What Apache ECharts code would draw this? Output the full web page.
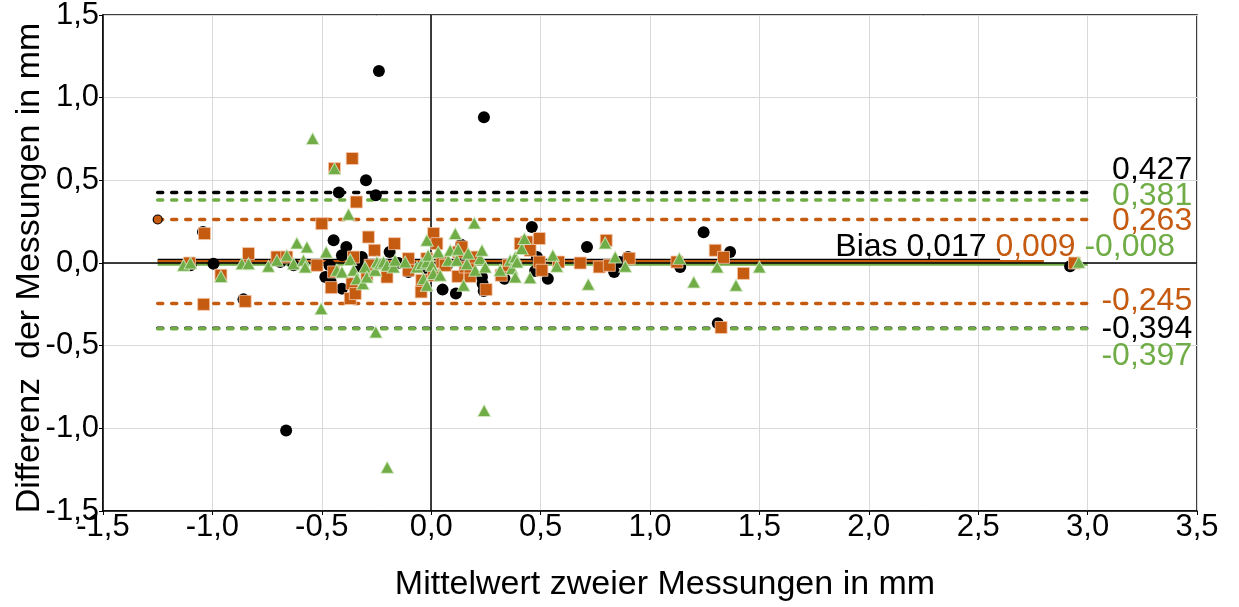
<!DOCTYPE html>
<html>
<head>
<meta charset="utf-8">
<script src="https://cdn.jsdelivr.net/npm/echarts@6/dist/echarts.min.js"></script>
<style>
  html, body { margin: 0; padding: 0; background: #fff; }
  #chart { width: 1239px; height: 607px; }
</style>
</head>
<body>
<div id="chart"></div>
<script>
// Bland-Altman data: [mean of two measurements, difference] in mm
const blackPts = [
  [-1.10, -0.014], [-1.043, 0.188], [-0.995, -0.004], [-0.858, -0.22], [-0.69, 0.006],
  [-0.663, -1.013], [-0.629, -0.014], [-0.484, -0.085], [-0.465, -0.014], [-0.461, -0.105],
  [-0.446, 0.137], [-0.422, 0.426], [-0.408, 0.047], [-0.408, -0.155], [-0.388, 0.097],
  [-0.317, 0.036], [-0.298, 0.50], [-0.253, 0.41], [-0.239, 1.162], [-0.19, 0.066],
  [-0.33, -0.02], [-0.15, 0.0], [-0.104, -0.054], [-0.096, -0.014], [-0.03, -0.03],
  [0.052, -0.161], [0.072, -0.014], [0.113, -0.185], [0.137, 0.111], [0.155, 0.028],
  [0.232, -0.085], [0.235, -0.125], [0.24, -0.169], [0.241, 0.881], [0.335, -0.095],
  [0.46, 0.218], [0.475, -0.048], [0.483, 0.036], [0.533, -0.095], [0.712, 0.097],
  [0.836, -0.054], [0.86, 0.006], [0.90, 0.036], [1.138, -0.024], [1.245, 0.186],
  [1.31, -0.365], [1.366, 0.066], [2.92, -0.02]
];

const orangePts = [
  [-1.105, 0.0], [-1.036, 0.178], [-1.04, -0.25], [-0.961, -0.074], [-0.85, -0.232],
  [-0.835, 0.057], [-0.705, 0.036], [-0.66, 0.036], [-0.522, -0.014], [-0.50, 0.238],
  [-0.457, -0.149], [-0.446, -0.054], [-0.442, 0.571], [-0.37, -0.215], [-0.362, -0.125],
  [-0.361, 0.632], [-0.355, 0.036], [-0.347, -0.185], [-0.342, 0.369], [-0.294, -0.074],
  [-0.287, 0.157], [-0.279, -0.014], [-0.259, 0.077], [-0.202, -0.085], [-0.168, 0.117],
  [-0.104, 0.026], [-0.104, -0.044], [-0.046, -0.175], [-0.043, -0.105], [-0.02, 0.026],
  [0.011, 0.178], [0.011, -0.074], [0.026, 0.117], [0.049, 0.006], [0.064, -0.014],
  [0.122, -0.081], [0.125, 0.066], [0.14, 0.097], [0.155, -0.024], [0.178, -0.081],
  [0.178, -0.024], [0.201, 0.036], [0.251, -0.161], [0.32, -0.074], [0.353, -0.014],
  [0.407, 0.117], [0.437, 0.127], [0.452, 0.077], [0.494, 0.148], [0.494, 0.006],
  [0.506, -0.044], [0.582, 0.006], [0.681, 0.0], [0.768, -0.024], [0.80, 0.137],
  [0.814, -0.014], [0.905, 0.028], [1.123, 0.006], [1.298, 0.077], [1.325, -0.39],
  [1.336, 0.034], [1.427, -0.063], [2.94, 0.0]
];

const greenPts = [
  [-1.132, -0.014], [-1.10, 0.0], [-0.961, -0.081], [-0.865, -0.004], [-0.835, -0.004],
  [-0.744, -0.02], [-0.705, 0.016], [-0.66, 0.047], [-0.629, -0.004], [-0.614, 0.121],
  [-0.584, 0.016], [-0.576, -0.024], [-0.568, 0.097], [-0.542, 0.753], [-0.503, -0.276],
  [-0.48, 0.066], [-0.442, 0.571], [-0.431, -0.044], [-0.408, -0.054], [-0.378, 0.295],
  [-0.37, 0.021], [-0.355, -0.044], [-0.34, -0.095], [-0.312, -0.125], [-0.302, -0.024],
  [-0.294, -0.085], [-0.256, -0.044], [-0.253, -0.417], [-0.248, 0.006], [-0.233, -0.004],
  [-0.218, 0.006], [-0.201, -1.236], [-0.202, -0.014], [-0.172, -0.024], [-0.165, 0.016],
  [-0.119, 0.006], [-0.065, -0.024], [-0.043, -0.004], [-0.035, -0.095], [-0.02, -0.135],
  [-0.02, 0.137], [-0.02, 0.006], [-0.014, 0.047], [0.003, -0.014], [0.01, -0.063],
  [0.032, 0.066], [0.041, -0.074], [0.078, 0.016], [0.087, 0.077], [0.11, 0.178],
  [0.117, 0.016], [0.123, 0.083], [0.148, -0.135], [0.163, -0.004], [0.169, 0.059],
  [0.197, 0.242], [0.201, -0.044], [0.224, 0.028], [0.232, 0.077], [0.242, -0.892],
  [0.247, -0.024], [0.315, -0.044], [0.361, 0.016], [0.369, -0.034], [0.384, 0.036],
  [0.384, -0.085], [0.392, 0.006], [0.414, 0.087], [0.426, 0.148], [0.452, -0.089],
  [0.556, 0.047], [0.574, -0.02], [0.718, -0.129], [0.795, 0.121], [0.841, 0.036],
  [0.887, -0.02], [1.134, 0.028], [1.20, -0.115], [1.307, -0.024], [1.393, -0.135],
  [1.50, -0.024], [2.96, 0.005]
];

// Bias and limits of agreement, in series order: black, orange, green
const biasVals = [0.017, 0.009, -0.008];
const upperLoA = [0.427, 0.263, 0.381];
const lowerLoA = [-0.394, -0.245, -0.397];

// Horizontal extent of the reference lines
const lineStartX = -1.25;
const biasEndX = [2.60, 2.80, 3.00];
const loaEndX = 3.03;

const colors = ['#000000', '#C55A11', '#70AD47'];
const FONT = '"Liberation Sans", Arial, sans-serif';
const fmt = v => v.toFixed(3).replace('.', ',');
const fmtTick = v => v.toFixed(1).replace('.', ',');

function dashedLine(v, ci, withStartDot) {
  const start = withStartDot
    ? { value: [lineStartX, v], symbol: 'circle', symbolSize: 9,
        itemStyle: { color: colors[ci], borderColor: '#000', borderWidth: 1.2, opacity: 1 } }
    : { value: [lineStartX, v], symbol: 'none' };
  return {
    type: 'line', z: 2, silent: true, animation: false,
    data: [start, { value: [loaEndX, v], symbol: 'none' }],
    showSymbol: true,
    lineStyle: { color: colors[ci], width: 3.5, type: [5, 9], cap: 'round', opacity: 1 }
  };
}

function biasLine(ci) {
  return {
    type: 'line', z: 3, silent: true, animation: false, symbol: 'none',
    data: [[lineStartX, biasVals[ci]], [biasEndX[ci], biasVals[ci]]],
    lineStyle: { color: colors[ci], width: 3, opacity: 1 }
  };
}

// value labels on the right side, stacked above/below the lines
const labelX = 3.478;
const labelRows = [
  { v: upperLoA[0], ci: 0, y: 0.56 },
  { v: upperLoA[2], ci: 2, y: 0.405 },
  { v: upperLoA[1], ci: 1, y: 0.252 },
  { v: lowerLoA[1], ci: 1, y: -0.23 },
  { v: lowerLoA[0], ci: 0, y: -0.401 },
  { v: lowerLoA[2], ci: 2, y: -0.563 }
];

const chart = echarts.init(document.getElementById('chart'), null, { renderer: 'canvas' });

const axisCommon = {
  type: 'value', min: -1.5, max: 3.5, interval: 0.5,
  axisLine: { show: true, onZero: false, lineStyle: { color: '#000', width: 1.5 } },
  axisTick: { show: true, length: 4, lineStyle: { color: '#000', width: 1 } },
  splitLine: { show: true, lineStyle: { color: '#d9d9d9', width: 1 } },
  nameLocation: 'middle',
  nameMoveOverlap: false
};

const option = {
  backgroundColor: '#fff',
  animation: false,
  grid: {
    left: 103, right: 42, top: 15, bottom: 96,
    outerBoundsMode: 'none', containLabel: false,
    show: true, borderColor: '#000', borderWidth: 1.5
  },
  xAxis: Object.assign({}, axisCommon, {
    name: 'Mittelwert zweier Messungen in mm', nameGap: 57,
    nameTextStyle: { fontFamily: FONT, fontSize: 34, color: '#000', padding: [0, 0, 0, 30] },
    axisLabel: { formatter: fmtTick, fontFamily: FONT, fontSize: 31, color: '#000', margin: 1 }
  }),
  yAxis: Object.assign({}, axisCommon, {
    min: -1.5, max: 1.5,
    name: 'Differenz  der Messungen in mm', nameGap: 56,
    nameTextStyle: { fontFamily: FONT, fontSize: 34, color: '#000', padding: [0, 10, 0, 0] },
    axisLabel: { formatter: fmtTick, fontFamily: FONT, fontSize: 31, color: '#000', margin: 4 }
  }),
  series: [
    {
      type: 'line', data: [], z: 1, silent: true,
      markLine: {
        silent: true, symbol: 'none', animation: false,
        label: { show: false },
        lineStyle: { color: '#000', width: 1.5, type: 'solid', opacity: 1 },
        data: [{ xAxis: 0 }, { yAxis: 0 }]
      }
    },
    dashedLine(upperLoA[0], 0, false),
    dashedLine(upperLoA[2], 2, false),
    dashedLine(upperLoA[1], 1, true),
    dashedLine(lowerLoA[1], 1, false),
    dashedLine(lowerLoA[0], 0, false),
    dashedLine(lowerLoA[2], 2, false),
    biasLine(0), biasLine(1), biasLine(2),
    {
      type: 'scatter', z: 4, data: blackPts, symbol: 'circle', symbolSize: 12,
      itemStyle: { color: colors[0], opacity: 1 }
    },
    {
      type: 'scatter', z: 5, data: orangePts, symbol: 'rect', symbolSize: 12,
      itemStyle: { color: colors[1], borderColor: 'rgba(245,200,170,0.8)', borderWidth: 1, opacity: 1 }
    },
    {
      type: 'scatter', z: 6, data: greenPts, symbol: 'triangle', symbolSize: [13, 12],
      itemStyle: { color: colors[2], borderColor: 'rgba(215,235,200,0.8)', borderWidth: 1, opacity: 1 }
    },
    {
      type: 'scatter', z: 7, silent: true, symbolSize: 0,
      itemStyle: { opacity: 1 },
      data: labelRows.map(r => ({
        value: [labelX, r.y],
        label: { show: true, position: 'left', distance: 0, formatter: fmt(r.v),
                 color: colors[r.ci], fontFamily: FONT, fontSize: 32 }
      })).concat([{
        value: [3.40, 0.093],
        label: {
          show: true, position: 'left', distance: 0,
          formatter: '{k|Bias ' + fmt(biasVals[0]) + '} {o|' + fmt(biasVals[1]) + '} {g|' + fmt(biasVals[2]) + '}',
          fontFamily: FONT, fontSize: 32,
          rich: {
            k: { color: colors[0], fontFamily: FONT, fontSize: 32 },
            o: { color: colors[1], fontFamily: FONT, fontSize: 32 },
            g: { color: colors[2], fontFamily: FONT, fontSize: 32 }
          }
        }
      }])
    }
  ]
};

chart.setOption(option);
</script>
</body>
</html>
